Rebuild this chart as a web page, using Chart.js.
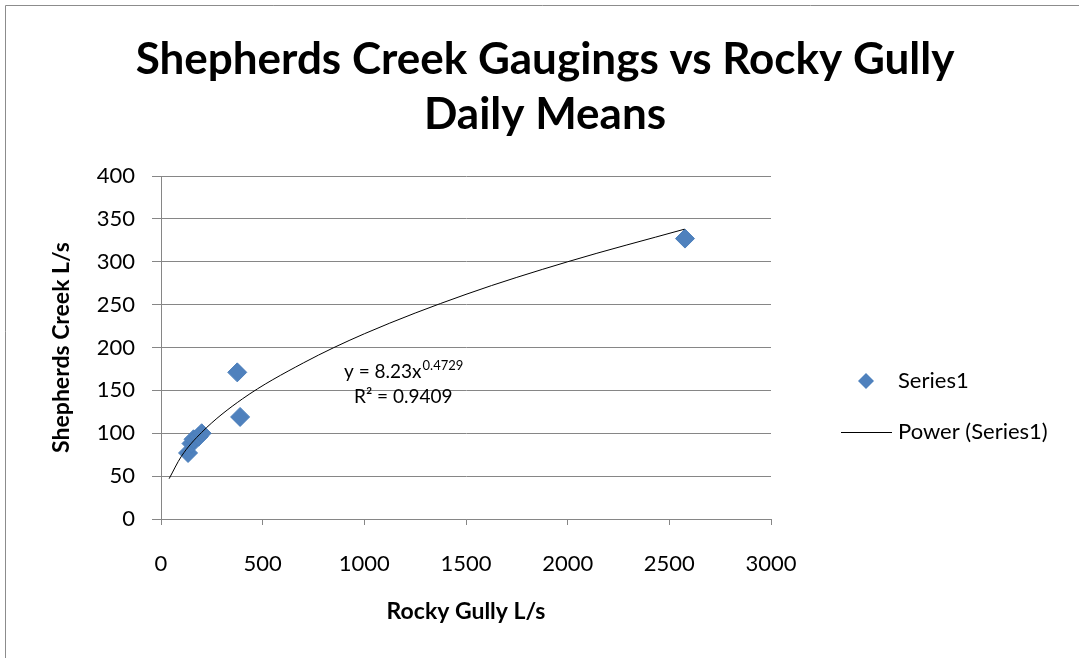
<!DOCTYPE html>
<html>
<head>
<meta charset="utf-8">
<script src="https://cdn.jsdelivr.net/npm/chart.js@4.4.1/dist/chart.umd.min.js"></script>
<style>
  html, body { margin: 0; padding: 0; background: #fff; }
  #wrap { width: 1079px; height: 658px; position: relative; }
</style>
</head>
<body>
<div id="wrap"><canvas id="chart" width="1079" height="658"></canvas></div>
<script>
// gaugings
const rockyGully = [133, 150, 160, 185, 200, 375, 389, 2577];
const shepherdsCreek = [77, 88, 93, 96, 100, 171, 119, 327];

// power trendline
const trendX = [40, 100, 200, 400, 700, 1000, 1500, 2000, 2575];
const trendY = [47, 73, 101, 140, 182, 216, 262, 300, 338];

const xTicks = [0, 500, 1000, 1500, 2000, 2500, 3000];
const yTicks = [0, 50, 100, 150, 200, 250, 300, 350, 400];

const titleLines = ["Shepherds Creek Gaugings vs Rocky Gully", "Daily Means"];

const FONT = "Lato, 'Open Sans', sans-serif";
const GRID = "#868686";
const BLUE = "#4F81BD";

const points = rockyGully.map((x, i) => ({ x: x, y: shepherdsCreek[i] }));
const trend = trendX.map((x, i) => ({ x: x, y: trendY[i] }));

const extras = {
  id: "extras",
  beforeDraw(chart) {
    const ctx = chart.ctx;
    ctx.save();
    ctx.strokeStyle = "#8c8c8c";
    ctx.lineWidth = 1;
    ctx.beginPath();
    ctx.moveTo(5.5, 658);
    ctx.lineTo(5.5, 5.5);
    ctx.lineTo(1079, 5.5);
    ctx.stroke();
    ctx.restore();
  },
  afterDraw(chart) {
    const ctx = chart.ctx;
    const xs = chart.scales.x, ys = chart.scales.y;
    ctx.save();
    ctx.fillStyle = "#000";
    ctx.textBaseline = "middle";

    // title, centred on the whole frame
    ctx.textAlign = "center";
    ctx.font = "bold 44px " + FONT;
    ctx.fillText(titleLines[0], 545, 60);
    ctx.fillText(titleLines[1], 545, 115);
    ctx.textAlign = "left";

    // equation label
    const ex = xs.getPixelForValue(900);
    const ey = ys.getPixelForValue(171);
    ctx.font = "19px " + FONT;
    const base = "y = 8.23x";
    ctx.fillText(base, ex, ey);
    const bw = ctx.measureText(base).width;
    ctx.font = "13px " + FONT;
    ctx.fillText("0.4729", ex + bw + 1, ey - 7);
    ctx.font = "19px " + FONT;
    ctx.fillText("R\u00b2 = 0.9409", ex + 10, ey + 25);

    // legend
    ctx.font = "22px " + FONT;
    ctx.fillStyle = BLUE;
    ctx.beginPath();
    ctx.moveTo(866, 373); ctx.lineTo(874, 381); ctx.lineTo(866, 389); ctx.lineTo(858, 381);
    ctx.closePath();
    ctx.fill();
    ctx.fillStyle = "#000";
    ctx.fillText("Series1", 898, 381);
    ctx.strokeStyle = "#000";
    ctx.lineWidth = 1;
    ctx.beginPath();
    ctx.moveTo(841, 432.5);
    ctx.lineTo(892, 432.5);
    ctx.stroke();
    ctx.fillText("Power (Series1)", 898, 432);
    ctx.restore();
  }
};

new Chart(document.getElementById("chart"), {
  type: "scatter",
  data: {
    datasets: [
      {
        label: "Series1",
        data: points,
        pointStyle: "rectRot",
        pointRadius: 9.5,
        backgroundColor: BLUE,
        borderColor: "#4A7EBB",
        borderWidth: 1,
        order: 2
      },
      {
        label: "Power (Series1)",
        data: trend,
        showLine: true,
        pointRadius: 0,
        borderColor: "#000",
        borderWidth: 1,
        cubicInterpolationMode: "monotone",
        order: 1
      }
    ]
  },
  plugins: [extras],
  options: {
    responsive: false,
    animation: false,
    events: [],
    layout: { padding: { left: 48, right: 308, top: 176, bottom: 33 } },
    plugins: {
      legend: { display: false },
      tooltip: { enabled: false },
      title: { display: false }
    },
    scales: {
      x: {
        type: "linear",
        min: 0,
        max: 3000,
        afterBuildTicks(scale) { scale.ticks = xTicks.map(v => ({ value: v })); },
        afterFit(scale) { scale.height = 106; },
        border: { color: GRID, width: 1 },
        grid: { drawOnChartArea: false, drawTicks: true, tickLength: 6, color: GRID },
        ticks: {
          color: "#000",
          padding: 26,
          font: { family: FONT, size: 22 },
          callback: v => String(v)
        },
        title: {
          display: true,
          text: "Rocky Gully L/s",
          color: "#000",
          padding: 0,
          font: { family: FONT, size: 23, weight: "bold", lineHeight: 1.2 }
        }
      },
      y: {
        min: 0,
        max: 400,
        afterBuildTicks(scale) { scale.ticks = yTicks.map(v => ({ value: v })); },
        afterFit(scale) { scale.width = 113; },
        border: { color: GRID, width: 1 },
        grid: { color: GRID, tickLength: 9 },
        ticks: {
          color: "#000",
          padding: 17,
          font: { family: FONT, size: 22 },
          callback: v => String(v)
        },
        title: {
          display: true,
          text: "Shepherds Creek L/s",
          color: "#000",
          padding: 0,
          font: { family: FONT, size: 23, weight: "bold", lineHeight: 1.2 }
        }
      }
    }
  }
});
</script>
</body>
</html>
